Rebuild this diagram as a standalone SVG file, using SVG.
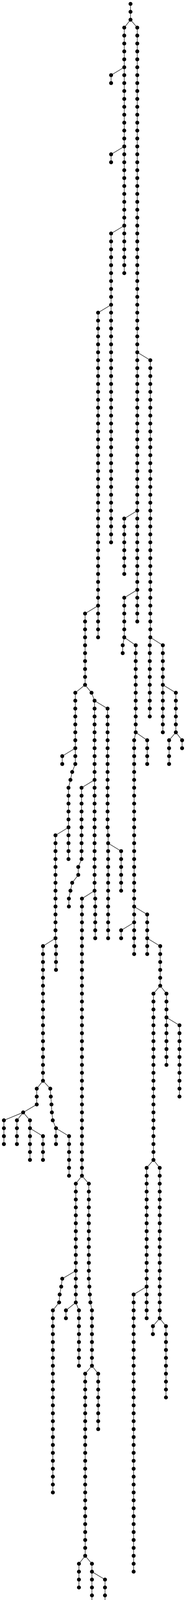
<svg xmlns="http://www.w3.org/2000/svg" width="476" height="4763" viewBox="0 0 476 4763">
<style>
.e path{fill:none;stroke:#333;stroke-width:1.5}
.n circle{r:5px;fill:#000}
</style>
<rect width="476" height="4763" fill="#fff"/>
<g id="connectors" class="e">
<path d="M334 10V50.5"/>
<path d="M334 50.5L318 70.8V699.2"/>
<path d="M334 50.5L351.3 70.8V1591.1"/>
<path d="M318 172.2L284.3 192.4V212.7"/>
<path d="M318 374.9L284.3 395.1V415.4"/>
<path d="M318 577.6L284.3 597.8V1388.4"/>
<path d="M284.3 780.3L251 800.5V1631.6"/>
<path d="M351.3 901.9L384.7 922.2V1631.6"/>
<path d="M351.3 1307.3L318 1327.6V1469.4"/>
<path d="M351.3 1510L318 1530.3V1631.6"/>
<path d="M251 1550.5L217.7 1570.8V1753.2"/>
<path d="M217.7 1753.2L192.7 1773.5V1955.9L184.7 1976.2L180.3 1996.5L175.3 2016.7V2199.2"/>
<path d="M192.7 1915.4L159.3 1935.7V1955.9"/>
<path d="M175.3 2118.1L142 2138.4V2401.9"/>
<path d="M217.7 1753.2L234.3 1773.5L242 1793.8V2280.2"/>
<path d="M242 1793.8L275.3 1814V2118.1L276.7 2138.4V2401.9"/>
<path d="M276.7 2158.6L310 2178.9V2280.2"/>
<path d="M242 1996.5L208.7 2016.7V2199.2L200.3 2219.4V2239.7L184.7 2260L180.3 2280.2L176.3 2300.5V2320.8"/>
<path d="M242 2280.2L209.7 2300.5V3010"/>
<path d="M242 2280.2L243.7 2300.5V2401.9"/>
<path d="M318 1631.6L314 1651.9V1672.1"/>
<path d="M318 1631.6L347.3 1651.9V1874.8"/>
<path d="M347.3 1874.8L343.3 1895.1V2442.4"/>
<path d="M347.3 1874.8L376.7 1895.1V1955.9"/>
<path d="M343.3 2320.8L376.7 2341.1V2442.4"/>
<path d="M376.7 2401.9L410 2422.1V2523.5"/>
<path d="M410 2523.5L392.7 2543.8V2969.4"/>
<path d="M410 2523.5L426 2543.8V2726.2"/>
<path d="M392.7 2969.4L375.3 2989.7V3374.8"/>
<path d="M392.7 2969.4L408.7 2989.7V3374.8"/>
<path d="M375.3 3293.7L342 3314V4023.5"/>
<path d="M408.7 3374.8L391.3 3395.1V3415.4"/>
<path d="M408.7 3374.8L424.7 3395.1V3577.5"/>
<path d="M426 2604.6L459.3 2624.8V2807.3"/>
<path d="M343.3 2361.3L310 2381.6V2401.9"/>
<path d="M384.7 1631.6L383.3 1651.9V1834.3"/>
<path d="M384.7 1631.6L416.7 1651.9V1874.8"/>
<path d="M416.7 1753.2L450 1773.5V1874.8"/>
<path d="M450 1874.8L432.7 1895.1V1955.9"/>
<path d="M450 1874.8L466 1895.1V1915.4"/>
<path d="M209.7 3010L194 3030.2V3334.3"/>
<path d="M209.7 3010L227.3 3030.2V3273.5L228.7 3293.7L230 3314L231.3 3334.3L235.3 3354.6V3496.4"/>
<path d="M194 3253.2L159.3 3273.5L156.7 3293.7L152.7 3314L151.3 3334.3L135.3 3354.6V3820.8"/>
<path d="M194 3334.3L168.7 3354.6V3374.8"/>
<path d="M194 3334.3L202 3354.6V3496.4"/>
<path d="M235.3 3496.4L218 3516.7V3982.9"/>
<path d="M235.3 3496.4L251.3 3516.7V3658.6"/>
<path d="M218 3982.9L202 4003.2V4064"/>
<path d="M218 3982.9L235.3 4003.2V4509.9"/>
<path d="M235.3 4023.5L268.7 4043.7V4469.4"/>
<path d="M235.3 4185.6L202 4205.9V4266.7"/>
<path d="M235.3 4509.9L219.3 4530.2V4591"/>
<path d="M235.3 4509.9L252.7 4530.2V4591"/>
<path d="M252.7 4591L235.3 4611.3V4631.6"/>
<path d="M252.7 4591L268.7 4611.3V4753.2"/>
<path d="M142 2401.9L110 2422.1V2766.7"/>
<path d="M142 2401.9L143.3 2422.1V2482.9"/>
<path d="M110 2766.7L94 2787V2827.5L59.3 2847.8"/>
<path d="M110 2766.7L128.7 2787L130 2807.3L131.7 2827.5L132.7 2847.8L135 2868.1L143.3 2888.3"/>
<path d="M59.3 2847.8L10 2868.1V2928.9"/>
<path d="M59.3 2847.8L43.3 2868.1V2928.9"/>
<path d="M59.3 2847.8L76.7 2868.1V2969.4"/>
<path d="M76.7 2888.3L110 2908.6V2969.4"/>
<path d="M143.3 2888.3V2928.9"/>
<path d="M143.3 2888.3L176.7 2908.6V3010"/>
</g>
<g id="nodes" class="n">
<g id="n0-0"><circle cx="334" cy="10"/></g>
<g id="n0-1"><circle cx="334" cy="30.3"/></g>
<g id="n0-2"><circle cx="334" cy="50.5"/></g>
<g id="n1-3"><circle cx="318" cy="70.8"/></g>
<g id="n1-4"><circle cx="318" cy="91.1"/></g>
<g id="n1-5"><circle cx="318" cy="111.4"/></g>
<g id="n1-6"><circle cx="318" cy="131.6"/></g>
<g id="n1-7"><circle cx="318" cy="151.9"/></g>
<g id="n1-8"><circle cx="318" cy="172.2"/></g>
<g id="n1-9"><circle cx="318" cy="192.4"/></g>
<g id="n1-10"><circle cx="318" cy="212.7"/></g>
<g id="n1-11"><circle cx="318" cy="233"/></g>
<g id="n1-12"><circle cx="318" cy="253.2"/></g>
<g id="n1-13"><circle cx="318" cy="273.5"/></g>
<g id="n1-14"><circle cx="318" cy="293.8"/></g>
<g id="n1-15"><circle cx="318" cy="314.1"/></g>
<g id="n1-16"><circle cx="318" cy="334.3"/></g>
<g id="n1-17"><circle cx="318" cy="354.6"/></g>
<g id="n1-18"><circle cx="318" cy="374.9"/></g>
<g id="n1-19"><circle cx="318" cy="395.1"/></g>
<g id="n1-20"><circle cx="318" cy="415.4"/></g>
<g id="n1-21"><circle cx="318" cy="435.7"/></g>
<g id="n1-22"><circle cx="318" cy="455.9"/></g>
<g id="n1-23"><circle cx="318" cy="476.2"/></g>
<g id="n1-24"><circle cx="318" cy="496.5"/></g>
<g id="n1-25"><circle cx="318" cy="516.8"/></g>
<g id="n1-26"><circle cx="318" cy="537"/></g>
<g id="n1-27"><circle cx="318" cy="557.3"/></g>
<g id="n1-28"><circle cx="318" cy="577.6"/></g>
<g id="n1-29"><circle cx="318" cy="597.8"/></g>
<g id="n1-30"><circle cx="318" cy="618.1"/></g>
<g id="n1-31"><circle cx="318" cy="638.4"/></g>
<g id="n1-32"><circle cx="318" cy="658.6"/></g>
<g id="n1-33"><circle cx="318" cy="678.9"/></g>
<g id="n1-34"><circle cx="318" cy="699.2"/></g>
<g id="n2-3"><circle cx="351.3" cy="70.8"/></g>
<g id="n2-4"><circle cx="351.3" cy="91.1"/></g>
<g id="n2-5"><circle cx="351.3" cy="111.4"/></g>
<g id="n2-6"><circle cx="351.3" cy="131.6"/></g>
<g id="n2-7"><circle cx="351.3" cy="151.9"/></g>
<g id="n2-8"><circle cx="351.3" cy="172.2"/></g>
<g id="n2-9"><circle cx="351.3" cy="192.4"/></g>
<g id="n2-10"><circle cx="351.3" cy="212.7"/></g>
<g id="n2-11"><circle cx="351.3" cy="233"/></g>
<g id="n2-12"><circle cx="351.3" cy="253.2"/></g>
<g id="n2-13"><circle cx="351.3" cy="273.5"/></g>
<g id="n2-14"><circle cx="351.3" cy="293.8"/></g>
<g id="n2-15"><circle cx="351.3" cy="314.1"/></g>
<g id="n2-16"><circle cx="351.3" cy="334.3"/></g>
<g id="n2-17"><circle cx="351.3" cy="354.6"/></g>
<g id="n2-18"><circle cx="351.3" cy="374.9"/></g>
<g id="n2-19"><circle cx="351.3" cy="395.1"/></g>
<g id="n2-20"><circle cx="351.3" cy="415.4"/></g>
<g id="n2-21"><circle cx="351.3" cy="435.7"/></g>
<g id="n2-22"><circle cx="351.3" cy="455.9"/></g>
<g id="n2-23"><circle cx="351.3" cy="476.2"/></g>
<g id="n2-24"><circle cx="351.3" cy="496.5"/></g>
<g id="n2-25"><circle cx="351.3" cy="516.8"/></g>
<g id="n2-26"><circle cx="351.3" cy="537"/></g>
<g id="n2-27"><circle cx="351.3" cy="557.3"/></g>
<g id="n2-28"><circle cx="351.3" cy="577.6"/></g>
<g id="n2-29"><circle cx="351.3" cy="597.8"/></g>
<g id="n2-30"><circle cx="351.3" cy="618.1"/></g>
<g id="n2-31"><circle cx="351.3" cy="638.4"/></g>
<g id="n2-32"><circle cx="351.3" cy="658.6"/></g>
<g id="n2-33"><circle cx="351.3" cy="678.9"/></g>
<g id="n2-34"><circle cx="351.3" cy="699.2"/></g>
<g id="n2-35"><circle cx="351.3" cy="719.5"/></g>
<g id="n2-36"><circle cx="351.3" cy="739.7"/></g>
<g id="n2-37"><circle cx="351.3" cy="760"/></g>
<g id="n2-38"><circle cx="351.3" cy="780.3"/></g>
<g id="n2-39"><circle cx="351.3" cy="800.5"/></g>
<g id="n2-40"><circle cx="351.3" cy="820.8"/></g>
<g id="n2-41"><circle cx="351.3" cy="841.1"/></g>
<g id="n2-42"><circle cx="351.3" cy="861.3"/></g>
<g id="n2-43"><circle cx="351.3" cy="881.6"/></g>
<g id="n2-44"><circle cx="351.3" cy="901.9"/></g>
<g id="n2-45"><circle cx="351.3" cy="922.2"/></g>
<g id="n2-46"><circle cx="351.3" cy="942.4"/></g>
<g id="n2-47"><circle cx="351.3" cy="962.7"/></g>
<g id="n2-48"><circle cx="351.3" cy="983"/></g>
<g id="n2-49"><circle cx="351.3" cy="1003.2"/></g>
<g id="n2-50"><circle cx="351.3" cy="1023.5"/></g>
<g id="n2-51"><circle cx="351.3" cy="1043.8"/></g>
<g id="n2-52"><circle cx="351.3" cy="1064"/></g>
<g id="n2-53"><circle cx="351.3" cy="1084.3"/></g>
<g id="n2-54"><circle cx="351.3" cy="1104.6"/></g>
<g id="n2-55"><circle cx="351.3" cy="1124.9"/></g>
<g id="n2-56"><circle cx="351.3" cy="1145.1"/></g>
<g id="n2-57"><circle cx="351.3" cy="1165.4"/></g>
<g id="n2-58"><circle cx="351.3" cy="1185.7"/></g>
<g id="n2-59"><circle cx="351.3" cy="1205.9"/></g>
<g id="n2-60"><circle cx="351.3" cy="1226.2"/></g>
<g id="n2-61"><circle cx="351.3" cy="1246.5"/></g>
<g id="n2-62"><circle cx="351.3" cy="1266.7"/></g>
<g id="n2-63"><circle cx="351.3" cy="1287"/></g>
<g id="n2-64"><circle cx="351.3" cy="1307.3"/></g>
<g id="n2-65"><circle cx="351.3" cy="1327.6"/></g>
<g id="n2-66"><circle cx="351.3" cy="1347.8"/></g>
<g id="n2-67"><circle cx="351.3" cy="1368.1"/></g>
<g id="n2-68"><circle cx="351.3" cy="1388.4"/></g>
<g id="n2-69"><circle cx="351.3" cy="1408.6"/></g>
<g id="n2-70"><circle cx="351.3" cy="1428.9"/></g>
<g id="n2-71"><circle cx="351.3" cy="1449.2"/></g>
<g id="n2-72"><circle cx="351.3" cy="1469.4"/></g>
<g id="n2-73"><circle cx="351.3" cy="1489.7"/></g>
<g id="n2-74"><circle cx="351.3" cy="1510"/></g>
<g id="n2-75"><circle cx="351.3" cy="1530.3"/></g>
<g id="n2-76"><circle cx="351.3" cy="1550.5"/></g>
<g id="n2-77"><circle cx="351.3" cy="1570.8"/></g>
<g id="n2-78"><circle cx="351.3" cy="1591.1"/></g>
<g id="n3-9"><circle cx="284.3" cy="192.4"/></g>
<g id="n3-10"><circle cx="284.3" cy="212.7"/></g>
<g id="n4-19"><circle cx="284.3" cy="395.1"/></g>
<g id="n4-20"><circle cx="284.3" cy="415.4"/></g>
<g id="n5-29"><circle cx="284.3" cy="597.8"/></g>
<g id="n5-30"><circle cx="284.3" cy="618.1"/></g>
<g id="n5-31"><circle cx="284.3" cy="638.4"/></g>
<g id="n5-32"><circle cx="284.3" cy="658.6"/></g>
<g id="n5-33"><circle cx="284.3" cy="678.9"/></g>
<g id="n5-34"><circle cx="284.3" cy="699.2"/></g>
<g id="n5-35"><circle cx="284.3" cy="719.5"/></g>
<g id="n5-36"><circle cx="284.3" cy="739.7"/></g>
<g id="n5-37"><circle cx="284.3" cy="760"/></g>
<g id="n5-38"><circle cx="284.3" cy="780.3"/></g>
<g id="n5-39"><circle cx="284.3" cy="800.5"/></g>
<g id="n5-40"><circle cx="284.3" cy="820.8"/></g>
<g id="n5-41"><circle cx="284.3" cy="841.1"/></g>
<g id="n5-42"><circle cx="284.3" cy="861.3"/></g>
<g id="n5-43"><circle cx="284.3" cy="881.6"/></g>
<g id="n5-44"><circle cx="284.3" cy="901.9"/></g>
<g id="n5-45"><circle cx="284.3" cy="922.2"/></g>
<g id="n5-46"><circle cx="284.3" cy="942.4"/></g>
<g id="n5-47"><circle cx="284.3" cy="962.7"/></g>
<g id="n5-48"><circle cx="284.3" cy="983"/></g>
<g id="n5-49"><circle cx="284.3" cy="1003.2"/></g>
<g id="n5-50"><circle cx="284.3" cy="1023.5"/></g>
<g id="n5-51"><circle cx="284.3" cy="1043.8"/></g>
<g id="n5-52"><circle cx="284.3" cy="1064"/></g>
<g id="n5-53"><circle cx="284.3" cy="1084.3"/></g>
<g id="n5-54"><circle cx="284.3" cy="1104.6"/></g>
<g id="n5-55"><circle cx="284.3" cy="1124.9"/></g>
<g id="n5-56"><circle cx="284.3" cy="1145.1"/></g>
<g id="n5-57"><circle cx="284.3" cy="1165.4"/></g>
<g id="n5-58"><circle cx="284.3" cy="1185.7"/></g>
<g id="n5-59"><circle cx="284.3" cy="1205.9"/></g>
<g id="n5-60"><circle cx="284.3" cy="1226.2"/></g>
<g id="n5-61"><circle cx="284.3" cy="1246.5"/></g>
<g id="n5-62"><circle cx="284.3" cy="1266.7"/></g>
<g id="n5-63"><circle cx="284.3" cy="1287"/></g>
<g id="n5-64"><circle cx="284.3" cy="1307.3"/></g>
<g id="n5-65"><circle cx="284.3" cy="1327.6"/></g>
<g id="n5-66"><circle cx="284.3" cy="1347.8"/></g>
<g id="n5-67"><circle cx="284.3" cy="1368.1"/></g>
<g id="n5-68"><circle cx="284.3" cy="1388.4"/></g>
<g id="n6-39"><circle cx="251" cy="800.5"/></g>
<g id="n6-40"><circle cx="251" cy="820.8"/></g>
<g id="n6-41"><circle cx="251" cy="841.1"/></g>
<g id="n6-42"><circle cx="251" cy="861.3"/></g>
<g id="n6-43"><circle cx="251" cy="881.6"/></g>
<g id="n6-44"><circle cx="251" cy="901.9"/></g>
<g id="n6-45"><circle cx="251" cy="922.2"/></g>
<g id="n6-46"><circle cx="251" cy="942.4"/></g>
<g id="n6-47"><circle cx="251" cy="962.7"/></g>
<g id="n6-48"><circle cx="251" cy="983"/></g>
<g id="n6-49"><circle cx="251" cy="1003.2"/></g>
<g id="n6-50"><circle cx="251" cy="1023.5"/></g>
<g id="n6-51"><circle cx="251" cy="1043.8"/></g>
<g id="n6-52"><circle cx="251" cy="1064"/></g>
<g id="n6-53"><circle cx="251" cy="1084.3"/></g>
<g id="n6-54"><circle cx="251" cy="1104.6"/></g>
<g id="n6-55"><circle cx="251" cy="1124.9"/></g>
<g id="n6-56"><circle cx="251" cy="1145.1"/></g>
<g id="n6-57"><circle cx="251" cy="1165.4"/></g>
<g id="n6-58"><circle cx="251" cy="1185.7"/></g>
<g id="n6-59"><circle cx="251" cy="1205.9"/></g>
<g id="n6-60"><circle cx="251" cy="1226.2"/></g>
<g id="n6-61"><circle cx="251" cy="1246.5"/></g>
<g id="n6-62"><circle cx="251" cy="1266.7"/></g>
<g id="n6-63"><circle cx="251" cy="1287"/></g>
<g id="n6-64"><circle cx="251" cy="1307.3"/></g>
<g id="n6-65"><circle cx="251" cy="1327.6"/></g>
<g id="n6-66"><circle cx="251" cy="1347.8"/></g>
<g id="n6-67"><circle cx="251" cy="1368.1"/></g>
<g id="n6-68"><circle cx="251" cy="1388.4"/></g>
<g id="n6-69"><circle cx="251" cy="1408.6"/></g>
<g id="n6-70"><circle cx="251" cy="1428.9"/></g>
<g id="n6-71"><circle cx="251" cy="1449.2"/></g>
<g id="n6-72"><circle cx="251" cy="1469.4"/></g>
<g id="n6-73"><circle cx="251" cy="1489.7"/></g>
<g id="n6-74"><circle cx="251" cy="1510"/></g>
<g id="n6-75"><circle cx="251" cy="1530.3"/></g>
<g id="n6-76"><circle cx="251" cy="1550.5"/></g>
<g id="n6-77"><circle cx="251" cy="1570.8"/></g>
<g id="n6-78"><circle cx="251" cy="1591.1"/></g>
<g id="n6-79"><circle cx="251" cy="1611.3"/></g>
<g id="n6-80"><circle cx="251" cy="1631.6"/></g>
<g id="n7-45"><circle cx="384.7" cy="922.2"/></g>
<g id="n7-46"><circle cx="384.7" cy="942.4"/></g>
<g id="n7-47"><circle cx="384.7" cy="962.7"/></g>
<g id="n7-48"><circle cx="384.7" cy="983"/></g>
<g id="n7-49"><circle cx="384.7" cy="1003.2"/></g>
<g id="n7-50"><circle cx="384.7" cy="1023.5"/></g>
<g id="n7-51"><circle cx="384.7" cy="1043.8"/></g>
<g id="n7-52"><circle cx="384.7" cy="1064"/></g>
<g id="n7-53"><circle cx="384.7" cy="1084.3"/></g>
<g id="n7-54"><circle cx="384.7" cy="1104.6"/></g>
<g id="n7-55"><circle cx="384.7" cy="1124.9"/></g>
<g id="n7-56"><circle cx="384.7" cy="1145.1"/></g>
<g id="n7-57"><circle cx="384.7" cy="1165.4"/></g>
<g id="n7-58"><circle cx="384.7" cy="1185.7"/></g>
<g id="n7-59"><circle cx="384.7" cy="1205.9"/></g>
<g id="n7-60"><circle cx="384.7" cy="1226.2"/></g>
<g id="n7-61"><circle cx="384.7" cy="1246.5"/></g>
<g id="n7-62"><circle cx="384.7" cy="1266.7"/></g>
<g id="n7-63"><circle cx="384.7" cy="1287"/></g>
<g id="n7-64"><circle cx="384.7" cy="1307.3"/></g>
<g id="n7-65"><circle cx="384.7" cy="1327.6"/></g>
<g id="n7-66"><circle cx="384.7" cy="1347.8"/></g>
<g id="n7-67"><circle cx="384.7" cy="1368.1"/></g>
<g id="n7-68"><circle cx="384.7" cy="1388.4"/></g>
<g id="n7-69"><circle cx="384.7" cy="1408.6"/></g>
<g id="n7-70"><circle cx="384.7" cy="1428.9"/></g>
<g id="n7-71"><circle cx="384.7" cy="1449.2"/></g>
<g id="n7-72"><circle cx="384.7" cy="1469.4"/></g>
<g id="n7-73"><circle cx="384.7" cy="1489.7"/></g>
<g id="n7-74"><circle cx="384.7" cy="1510"/></g>
<g id="n7-75"><circle cx="384.7" cy="1530.3"/></g>
<g id="n7-76"><circle cx="384.7" cy="1550.5"/></g>
<g id="n7-77"><circle cx="384.7" cy="1570.8"/></g>
<g id="n7-78"><circle cx="384.7" cy="1591.1"/></g>
<g id="n7-79"><circle cx="384.7" cy="1611.3"/></g>
<g id="n7-80"><circle cx="384.7" cy="1631.6"/></g>
<g id="n8-65"><circle cx="318" cy="1327.6"/></g>
<g id="n8-66"><circle cx="318" cy="1347.8"/></g>
<g id="n8-67"><circle cx="318" cy="1368.1"/></g>
<g id="n8-68"><circle cx="318" cy="1388.4"/></g>
<g id="n8-69"><circle cx="318" cy="1408.6"/></g>
<g id="n8-70"><circle cx="318" cy="1428.9"/></g>
<g id="n8-71"><circle cx="318" cy="1449.2"/></g>
<g id="n8-72"><circle cx="318" cy="1469.4"/></g>
<g id="n9-75"><circle cx="318" cy="1530.3"/></g>
<g id="n9-76"><circle cx="318" cy="1550.5"/></g>
<g id="n9-77"><circle cx="318" cy="1570.8"/></g>
<g id="n9-78"><circle cx="318" cy="1591.1"/></g>
<g id="n9-79"><circle cx="318" cy="1611.3"/></g>
<g id="n9-80"><circle cx="318" cy="1631.6"/></g>
<g id="n10-77"><circle cx="217.7" cy="1570.8"/></g>
<g id="n10-78"><circle cx="217.7" cy="1591.1"/></g>
<g id="n10-79"><circle cx="217.7" cy="1611.3"/></g>
<g id="n10-80"><circle cx="217.7" cy="1631.6"/></g>
<g id="n10-81"><circle cx="217.7" cy="1651.9"/></g>
<g id="n10-82"><circle cx="217.7" cy="1672.1"/></g>
<g id="n10-83"><circle cx="217.7" cy="1692.4"/></g>
<g id="n10-84"><circle cx="217.7" cy="1712.7"/></g>
<g id="n10-85"><circle cx="217.7" cy="1733"/></g>
<g id="n10-86"><circle cx="217.7" cy="1753.2"/></g>
<g id="n11-87"><circle cx="192.7" cy="1773.5"/></g>
<g id="n11-88"><circle cx="192.7" cy="1793.8"/></g>
<g id="n11-89"><circle cx="192.7" cy="1814"/></g>
<g id="n11-90"><circle cx="192.7" cy="1834.3"/></g>
<g id="n11-91"><circle cx="192.7" cy="1854.6"/></g>
<g id="n11-92"><circle cx="192.7" cy="1874.8"/></g>
<g id="n11-93"><circle cx="192.7" cy="1895.1"/></g>
<g id="n11-94"><circle cx="192.7" cy="1915.4"/></g>
<g id="n11-95"><circle cx="192.7" cy="1935.7"/></g>
<g id="n11-96"><circle cx="192.7" cy="1955.9"/></g>
<g id="n11-97"><circle cx="184.7" cy="1976.2"/></g>
<g id="n11-98"><circle cx="180.3" cy="1996.5"/></g>
<g id="n11-99"><circle cx="175.3" cy="2016.7"/></g>
<g id="n11-100"><circle cx="175.3" cy="2037"/></g>
<g id="n11-101"><circle cx="175.3" cy="2057.3"/></g>
<g id="n11-102"><circle cx="175.3" cy="2077.5"/></g>
<g id="n11-103"><circle cx="175.3" cy="2097.8"/></g>
<g id="n11-104"><circle cx="175.3" cy="2118.1"/></g>
<g id="n11-105"><circle cx="175.3" cy="2138.4"/></g>
<g id="n11-106"><circle cx="175.3" cy="2158.6"/></g>
<g id="n11-107"><circle cx="175.3" cy="2178.9"/></g>
<g id="n11-108"><circle cx="175.3" cy="2199.2"/></g>
<g id="n12-95"><circle cx="159.3" cy="1935.7"/></g>
<g id="n12-96"><circle cx="159.3" cy="1955.9"/></g>
<g id="n13-105"><circle cx="142" cy="2138.4"/></g>
<g id="n13-106"><circle cx="142" cy="2158.6"/></g>
<g id="n13-107"><circle cx="142" cy="2178.9"/></g>
<g id="n13-108"><circle cx="142" cy="2199.2"/></g>
<g id="n13-109"><circle cx="142" cy="2219.4"/></g>
<g id="n13-110"><circle cx="142" cy="2239.7"/></g>
<g id="n13-111"><circle cx="142" cy="2260"/></g>
<g id="n13-112"><circle cx="142" cy="2280.2"/></g>
<g id="n13-113"><circle cx="142" cy="2300.5"/></g>
<g id="n13-114"><circle cx="142" cy="2320.8"/></g>
<g id="n13-115"><circle cx="142" cy="2341.1"/></g>
<g id="n13-116"><circle cx="142" cy="2361.3"/></g>
<g id="n13-117"><circle cx="142" cy="2381.6"/></g>
<g id="n13-118"><circle cx="142" cy="2401.9"/></g>
<g id="n14-87"><circle cx="234.3" cy="1773.5"/></g>
<g id="n14-88"><circle cx="242" cy="1793.8"/></g>
<g id="n14-89"><circle cx="242" cy="1814"/></g>
<g id="n14-90"><circle cx="242" cy="1834.3"/></g>
<g id="n14-91"><circle cx="242" cy="1854.6"/></g>
<g id="n14-92"><circle cx="242" cy="1874.8"/></g>
<g id="n14-93"><circle cx="242" cy="1895.1"/></g>
<g id="n14-94"><circle cx="242" cy="1915.4"/></g>
<g id="n14-95"><circle cx="242" cy="1935.7"/></g>
<g id="n14-96"><circle cx="242" cy="1955.9"/></g>
<g id="n14-97"><circle cx="242" cy="1976.2"/></g>
<g id="n14-98"><circle cx="242" cy="1996.5"/></g>
<g id="n14-99"><circle cx="242" cy="2016.7"/></g>
<g id="n14-100"><circle cx="242" cy="2037"/></g>
<g id="n14-101"><circle cx="242" cy="2057.3"/></g>
<g id="n14-102"><circle cx="242" cy="2077.5"/></g>
<g id="n14-103"><circle cx="242" cy="2097.8"/></g>
<g id="n14-104"><circle cx="242" cy="2118.1"/></g>
<g id="n14-105"><circle cx="242" cy="2138.4"/></g>
<g id="n14-106"><circle cx="242" cy="2158.6"/></g>
<g id="n14-107"><circle cx="242" cy="2178.9"/></g>
<g id="n14-108"><circle cx="242" cy="2199.2"/></g>
<g id="n14-109"><circle cx="242" cy="2219.4"/></g>
<g id="n14-110"><circle cx="242" cy="2239.7"/></g>
<g id="n14-111"><circle cx="242" cy="2260"/></g>
<g id="n14-112"><circle cx="242" cy="2280.2"/></g>
<g id="n15-89"><circle cx="275.3" cy="1814"/></g>
<g id="n15-90"><circle cx="275.3" cy="1834.3"/></g>
<g id="n15-91"><circle cx="275.3" cy="1854.6"/></g>
<g id="n15-92"><circle cx="275.3" cy="1874.8"/></g>
<g id="n15-93"><circle cx="275.3" cy="1895.1"/></g>
<g id="n15-94"><circle cx="275.3" cy="1915.4"/></g>
<g id="n15-95"><circle cx="275.3" cy="1935.7"/></g>
<g id="n15-96"><circle cx="275.3" cy="1955.9"/></g>
<g id="n15-97"><circle cx="275.3" cy="1976.2"/></g>
<g id="n15-98"><circle cx="275.3" cy="1996.5"/></g>
<g id="n15-99"><circle cx="275.3" cy="2016.7"/></g>
<g id="n15-100"><circle cx="275.3" cy="2037"/></g>
<g id="n15-101"><circle cx="275.3" cy="2057.3"/></g>
<g id="n15-102"><circle cx="275.3" cy="2077.5"/></g>
<g id="n15-103"><circle cx="275.3" cy="2097.8"/></g>
<g id="n15-104"><circle cx="275.3" cy="2118.1"/></g>
<g id="n15-105"><circle cx="276.7" cy="2138.4"/></g>
<g id="n15-106"><circle cx="276.7" cy="2158.6"/></g>
<g id="n15-107"><circle cx="276.7" cy="2178.9"/></g>
<g id="n15-108"><circle cx="276.7" cy="2199.2"/></g>
<g id="n15-109"><circle cx="276.7" cy="2219.4"/></g>
<g id="n15-110"><circle cx="276.7" cy="2239.7"/></g>
<g id="n15-111"><circle cx="276.7" cy="2260"/></g>
<g id="n15-112"><circle cx="276.7" cy="2280.2"/></g>
<g id="n15-113"><circle cx="276.7" cy="2300.5"/></g>
<g id="n15-114"><circle cx="276.7" cy="2320.8"/></g>
<g id="n15-115"><circle cx="276.7" cy="2341.1"/></g>
<g id="n15-116"><circle cx="276.7" cy="2361.3"/></g>
<g id="n15-117"><circle cx="276.7" cy="2381.6"/></g>
<g id="n15-118"><circle cx="276.7" cy="2401.9"/></g>
<g id="n16-107"><circle cx="310" cy="2178.9"/></g>
<g id="n16-108"><circle cx="310" cy="2199.2"/></g>
<g id="n16-109"><circle cx="310" cy="2219.4"/></g>
<g id="n16-110"><circle cx="310" cy="2239.7"/></g>
<g id="n16-111"><circle cx="310" cy="2260"/></g>
<g id="n16-112"><circle cx="310" cy="2280.2"/></g>
<g id="n17-99"><circle cx="208.7" cy="2016.7"/></g>
<g id="n17-100"><circle cx="208.7" cy="2037"/></g>
<g id="n17-101"><circle cx="208.7" cy="2057.3"/></g>
<g id="n17-102"><circle cx="208.7" cy="2077.5"/></g>
<g id="n17-103"><circle cx="208.7" cy="2097.8"/></g>
<g id="n17-104"><circle cx="208.7" cy="2118.1"/></g>
<g id="n17-105"><circle cx="208.7" cy="2138.4"/></g>
<g id="n17-106"><circle cx="208.7" cy="2158.6"/></g>
<g id="n17-107"><circle cx="208.7" cy="2178.9"/></g>
<g id="n17-108"><circle cx="208.7" cy="2199.2"/></g>
<g id="n17-109"><circle cx="200.3" cy="2219.4"/></g>
<g id="n17-110"><circle cx="200.3" cy="2239.7"/></g>
<g id="n17-111"><circle cx="184.7" cy="2260"/></g>
<g id="n17-112"><circle cx="180.3" cy="2280.2"/></g>
<g id="n17-113"><circle cx="176.3" cy="2300.5"/></g>
<g id="n17-114"><circle cx="176.3" cy="2320.8"/></g>
<g id="n18-113"><circle cx="209.7" cy="2300.5"/></g>
<g id="n18-114"><circle cx="209.7" cy="2320.8"/></g>
<g id="n18-115"><circle cx="209.7" cy="2341.1"/></g>
<g id="n18-116"><circle cx="209.7" cy="2361.3"/></g>
<g id="n18-117"><circle cx="209.7" cy="2381.6"/></g>
<g id="n18-118"><circle cx="209.7" cy="2401.9"/></g>
<g id="n18-119"><circle cx="209.7" cy="2422.1"/></g>
<g id="n18-120"><circle cx="209.7" cy="2442.4"/></g>
<g id="n18-121"><circle cx="209.7" cy="2462.7"/></g>
<g id="n18-122"><circle cx="209.7" cy="2482.9"/></g>
<g id="n18-123"><circle cx="209.7" cy="2503.2"/></g>
<g id="n18-124"><circle cx="209.7" cy="2523.5"/></g>
<g id="n18-125"><circle cx="209.7" cy="2543.8"/></g>
<g id="n18-126"><circle cx="209.7" cy="2564"/></g>
<g id="n18-127"><circle cx="209.7" cy="2584.3"/></g>
<g id="n18-128"><circle cx="209.7" cy="2604.6"/></g>
<g id="n18-129"><circle cx="209.7" cy="2624.8"/></g>
<g id="n18-130"><circle cx="209.7" cy="2645.1"/></g>
<g id="n18-131"><circle cx="209.7" cy="2665.4"/></g>
<g id="n18-132"><circle cx="209.7" cy="2685.6"/></g>
<g id="n18-133"><circle cx="209.7" cy="2705.9"/></g>
<g id="n18-134"><circle cx="209.7" cy="2726.2"/></g>
<g id="n18-135"><circle cx="209.7" cy="2746.5"/></g>
<g id="n18-136"><circle cx="209.7" cy="2766.7"/></g>
<g id="n18-137"><circle cx="209.7" cy="2787"/></g>
<g id="n18-138"><circle cx="209.7" cy="2807.3"/></g>
<g id="n18-139"><circle cx="209.7" cy="2827.5"/></g>
<g id="n18-140"><circle cx="209.7" cy="2847.8"/></g>
<g id="n18-141"><circle cx="209.7" cy="2868.1"/></g>
<g id="n18-142"><circle cx="209.7" cy="2888.3"/></g>
<g id="n18-143"><circle cx="209.7" cy="2908.6"/></g>
<g id="n18-144"><circle cx="209.7" cy="2928.9"/></g>
<g id="n18-145"><circle cx="209.7" cy="2949.2"/></g>
<g id="n18-146"><circle cx="209.7" cy="2969.4"/></g>
<g id="n18-147"><circle cx="209.7" cy="2989.7"/></g>
<g id="n18-148"><circle cx="209.7" cy="3010"/></g>
<g id="n19-113"><circle cx="243.7" cy="2300.5"/></g>
<g id="n19-114"><circle cx="243.7" cy="2320.8"/></g>
<g id="n19-115"><circle cx="243.7" cy="2341.1"/></g>
<g id="n19-116"><circle cx="243.7" cy="2361.3"/></g>
<g id="n19-117"><circle cx="243.7" cy="2381.6"/></g>
<g id="n19-118"><circle cx="243.7" cy="2401.9"/></g>
<g id="n20-81"><circle cx="314" cy="1651.9"/></g>
<g id="n20-82"><circle cx="314" cy="1672.1"/></g>
<g id="n21-81"><circle cx="347.3" cy="1651.9"/></g>
<g id="n21-82"><circle cx="347.3" cy="1672.1"/></g>
<g id="n21-83"><circle cx="347.3" cy="1692.4"/></g>
<g id="n21-84"><circle cx="347.3" cy="1712.7"/></g>
<g id="n21-85"><circle cx="347.3" cy="1733"/></g>
<g id="n21-86"><circle cx="347.3" cy="1753.2"/></g>
<g id="n21-87"><circle cx="347.3" cy="1773.5"/></g>
<g id="n21-88"><circle cx="347.3" cy="1793.8"/></g>
<g id="n21-89"><circle cx="347.3" cy="1814"/></g>
<g id="n21-90"><circle cx="347.3" cy="1834.3"/></g>
<g id="n21-91"><circle cx="347.3" cy="1854.6"/></g>
<g id="n21-92"><circle cx="347.3" cy="1874.8"/></g>
<g id="n22-93"><circle cx="343.3" cy="1895.1"/></g>
<g id="n22-94"><circle cx="343.3" cy="1915.4"/></g>
<g id="n22-95"><circle cx="343.3" cy="1935.7"/></g>
<g id="n22-96"><circle cx="343.3" cy="1955.9"/></g>
<g id="n22-97"><circle cx="343.3" cy="1976.2"/></g>
<g id="n22-98"><circle cx="343.3" cy="1996.5"/></g>
<g id="n22-99"><circle cx="343.3" cy="2016.7"/></g>
<g id="n22-100"><circle cx="343.3" cy="2037"/></g>
<g id="n22-101"><circle cx="343.3" cy="2057.3"/></g>
<g id="n22-102"><circle cx="343.3" cy="2077.5"/></g>
<g id="n22-103"><circle cx="343.3" cy="2097.8"/></g>
<g id="n22-104"><circle cx="343.3" cy="2118.1"/></g>
<g id="n22-105"><circle cx="343.3" cy="2138.4"/></g>
<g id="n22-106"><circle cx="343.3" cy="2158.6"/></g>
<g id="n22-107"><circle cx="343.3" cy="2178.9"/></g>
<g id="n22-108"><circle cx="343.3" cy="2199.2"/></g>
<g id="n22-109"><circle cx="343.3" cy="2219.4"/></g>
<g id="n22-110"><circle cx="343.3" cy="2239.7"/></g>
<g id="n22-111"><circle cx="343.3" cy="2260"/></g>
<g id="n22-112"><circle cx="343.3" cy="2280.2"/></g>
<g id="n22-113"><circle cx="343.3" cy="2300.5"/></g>
<g id="n22-114"><circle cx="343.3" cy="2320.8"/></g>
<g id="n22-115"><circle cx="343.3" cy="2341.1"/></g>
<g id="n22-116"><circle cx="343.3" cy="2361.3"/></g>
<g id="n22-117"><circle cx="343.3" cy="2381.6"/></g>
<g id="n22-118"><circle cx="343.3" cy="2401.9"/></g>
<g id="n22-119"><circle cx="343.3" cy="2422.1"/></g>
<g id="n22-120"><circle cx="343.3" cy="2442.4"/></g>
<g id="n23-93"><circle cx="376.7" cy="1895.1"/></g>
<g id="n23-94"><circle cx="376.7" cy="1915.4"/></g>
<g id="n23-95"><circle cx="376.7" cy="1935.7"/></g>
<g id="n23-96"><circle cx="376.7" cy="1955.9"/></g>
<g id="n24-115"><circle cx="376.7" cy="2341.1"/></g>
<g id="n24-116"><circle cx="376.7" cy="2361.3"/></g>
<g id="n24-117"><circle cx="376.7" cy="2381.6"/></g>
<g id="n24-118"><circle cx="376.7" cy="2401.9"/></g>
<g id="n24-119"><circle cx="376.7" cy="2422.1"/></g>
<g id="n24-120"><circle cx="376.7" cy="2442.4"/></g>
<g id="n25-119"><circle cx="410" cy="2422.1"/></g>
<g id="n25-120"><circle cx="410" cy="2442.4"/></g>
<g id="n25-121"><circle cx="410" cy="2462.7"/></g>
<g id="n25-122"><circle cx="410" cy="2482.9"/></g>
<g id="n25-123"><circle cx="410" cy="2503.2"/></g>
<g id="n25-124"><circle cx="410" cy="2523.5"/></g>
<g id="n26-125"><circle cx="392.7" cy="2543.8"/></g>
<g id="n26-126"><circle cx="392.7" cy="2564"/></g>
<g id="n26-127"><circle cx="392.7" cy="2584.3"/></g>
<g id="n26-128"><circle cx="392.7" cy="2604.6"/></g>
<g id="n26-129"><circle cx="392.7" cy="2624.8"/></g>
<g id="n26-130"><circle cx="392.7" cy="2645.1"/></g>
<g id="n26-131"><circle cx="392.7" cy="2665.4"/></g>
<g id="n26-132"><circle cx="392.7" cy="2685.6"/></g>
<g id="n26-133"><circle cx="392.7" cy="2705.9"/></g>
<g id="n26-134"><circle cx="392.7" cy="2726.2"/></g>
<g id="n26-135"><circle cx="392.7" cy="2746.5"/></g>
<g id="n26-136"><circle cx="392.7" cy="2766.7"/></g>
<g id="n26-137"><circle cx="392.7" cy="2787"/></g>
<g id="n26-138"><circle cx="392.7" cy="2807.3"/></g>
<g id="n26-139"><circle cx="392.7" cy="2827.5"/></g>
<g id="n26-140"><circle cx="392.7" cy="2847.8"/></g>
<g id="n26-141"><circle cx="392.7" cy="2868.1"/></g>
<g id="n26-142"><circle cx="392.7" cy="2888.3"/></g>
<g id="n26-143"><circle cx="392.7" cy="2908.6"/></g>
<g id="n26-144"><circle cx="392.7" cy="2928.9"/></g>
<g id="n26-145"><circle cx="392.7" cy="2949.2"/></g>
<g id="n26-146"><circle cx="392.7" cy="2969.4"/></g>
<g id="n27-125"><circle cx="426" cy="2543.8"/></g>
<g id="n27-126"><circle cx="426" cy="2564"/></g>
<g id="n27-127"><circle cx="426" cy="2584.3"/></g>
<g id="n27-128"><circle cx="426" cy="2604.6"/></g>
<g id="n27-129"><circle cx="426" cy="2624.8"/></g>
<g id="n27-130"><circle cx="426" cy="2645.1"/></g>
<g id="n27-131"><circle cx="426" cy="2665.4"/></g>
<g id="n27-132"><circle cx="426" cy="2685.6"/></g>
<g id="n27-133"><circle cx="426" cy="2705.9"/></g>
<g id="n27-134"><circle cx="426" cy="2726.2"/></g>
<g id="n28-147"><circle cx="375.3" cy="2989.7"/></g>
<g id="n28-148"><circle cx="375.3" cy="3010"/></g>
<g id="n28-149"><circle cx="375.3" cy="3030.2"/></g>
<g id="n28-150"><circle cx="375.3" cy="3050.5"/></g>
<g id="n28-151"><circle cx="375.3" cy="3070.8"/></g>
<g id="n28-152"><circle cx="375.3" cy="3091"/></g>
<g id="n28-153"><circle cx="375.3" cy="3111.3"/></g>
<g id="n28-154"><circle cx="375.3" cy="3131.6"/></g>
<g id="n28-155"><circle cx="375.3" cy="3151.9"/></g>
<g id="n28-156"><circle cx="375.3" cy="3172.1"/></g>
<g id="n28-157"><circle cx="375.3" cy="3192.4"/></g>
<g id="n28-158"><circle cx="375.3" cy="3212.7"/></g>
<g id="n28-159"><circle cx="375.3" cy="3232.9"/></g>
<g id="n28-160"><circle cx="375.3" cy="3253.2"/></g>
<g id="n28-161"><circle cx="375.3" cy="3273.5"/></g>
<g id="n28-162"><circle cx="375.3" cy="3293.7"/></g>
<g id="n28-163"><circle cx="375.3" cy="3314"/></g>
<g id="n28-164"><circle cx="375.3" cy="3334.3"/></g>
<g id="n28-165"><circle cx="375.3" cy="3354.6"/></g>
<g id="n28-166"><circle cx="375.3" cy="3374.8"/></g>
<g id="n29-147"><circle cx="408.7" cy="2989.7"/></g>
<g id="n29-148"><circle cx="408.7" cy="3010"/></g>
<g id="n29-149"><circle cx="408.7" cy="3030.2"/></g>
<g id="n29-150"><circle cx="408.7" cy="3050.5"/></g>
<g id="n29-151"><circle cx="408.7" cy="3070.8"/></g>
<g id="n29-152"><circle cx="408.7" cy="3091"/></g>
<g id="n29-153"><circle cx="408.7" cy="3111.3"/></g>
<g id="n29-154"><circle cx="408.7" cy="3131.6"/></g>
<g id="n29-155"><circle cx="408.7" cy="3151.9"/></g>
<g id="n29-156"><circle cx="408.7" cy="3172.1"/></g>
<g id="n29-157"><circle cx="408.7" cy="3192.4"/></g>
<g id="n29-158"><circle cx="408.7" cy="3212.7"/></g>
<g id="n29-159"><circle cx="408.7" cy="3232.9"/></g>
<g id="n29-160"><circle cx="408.7" cy="3253.2"/></g>
<g id="n29-161"><circle cx="408.7" cy="3273.5"/></g>
<g id="n29-162"><circle cx="408.7" cy="3293.7"/></g>
<g id="n29-163"><circle cx="408.7" cy="3314"/></g>
<g id="n29-164"><circle cx="408.7" cy="3334.3"/></g>
<g id="n29-165"><circle cx="408.7" cy="3354.6"/></g>
<g id="n29-166"><circle cx="408.7" cy="3374.8"/></g>
<g id="n30-163"><circle cx="342" cy="3314"/></g>
<g id="n30-164"><circle cx="342" cy="3334.3"/></g>
<g id="n30-165"><circle cx="342" cy="3354.6"/></g>
<g id="n30-166"><circle cx="342" cy="3374.8"/></g>
<g id="n30-167"><circle cx="342" cy="3395.1"/></g>
<g id="n30-168"><circle cx="342" cy="3415.4"/></g>
<g id="n30-169"><circle cx="342" cy="3435.6"/></g>
<g id="n30-170"><circle cx="342" cy="3455.9"/></g>
<g id="n30-171"><circle cx="342" cy="3476.2"/></g>
<g id="n30-172"><circle cx="342" cy="3496.4"/></g>
<g id="n30-173"><circle cx="342" cy="3516.7"/></g>
<g id="n30-174"><circle cx="342" cy="3537"/></g>
<g id="n30-175"><circle cx="342" cy="3557.3"/></g>
<g id="n30-176"><circle cx="342" cy="3577.5"/></g>
<g id="n30-177"><circle cx="342" cy="3597.8"/></g>
<g id="n30-178"><circle cx="342" cy="3618.1"/></g>
<g id="n30-179"><circle cx="342" cy="3638.3"/></g>
<g id="n30-180"><circle cx="342" cy="3658.6"/></g>
<g id="n30-181"><circle cx="342" cy="3678.9"/></g>
<g id="n30-182"><circle cx="342" cy="3699.1"/></g>
<g id="n30-183"><circle cx="342" cy="3719.4"/></g>
<g id="n30-184"><circle cx="342" cy="3739.7"/></g>
<g id="n30-185"><circle cx="342" cy="3760"/></g>
<g id="n30-186"><circle cx="342" cy="3780.2"/></g>
<g id="n30-187"><circle cx="342" cy="3800.5"/></g>
<g id="n30-188"><circle cx="342" cy="3820.8"/></g>
<g id="n30-189"><circle cx="342" cy="3841"/></g>
<g id="n30-190"><circle cx="342" cy="3861.3"/></g>
<g id="n30-191"><circle cx="342" cy="3881.6"/></g>
<g id="n30-192"><circle cx="342" cy="3901.8"/></g>
<g id="n30-193"><circle cx="342" cy="3922.1"/></g>
<g id="n30-194"><circle cx="342" cy="3942.4"/></g>
<g id="n30-195"><circle cx="342" cy="3962.7"/></g>
<g id="n30-196"><circle cx="342" cy="3982.9"/></g>
<g id="n30-197"><circle cx="342" cy="4003.2"/></g>
<g id="n30-198"><circle cx="342" cy="4023.5"/></g>
<g id="n31-167"><circle cx="391.3" cy="3395.1"/></g>
<g id="n31-168"><circle cx="391.3" cy="3415.4"/></g>
<g id="n32-167"><circle cx="424.7" cy="3395.1"/></g>
<g id="n32-168"><circle cx="424.7" cy="3415.4"/></g>
<g id="n32-169"><circle cx="424.7" cy="3435.6"/></g>
<g id="n32-170"><circle cx="424.7" cy="3455.9"/></g>
<g id="n32-171"><circle cx="424.7" cy="3476.2"/></g>
<g id="n32-172"><circle cx="424.7" cy="3496.4"/></g>
<g id="n32-173"><circle cx="424.7" cy="3516.7"/></g>
<g id="n32-174"><circle cx="424.7" cy="3537"/></g>
<g id="n32-175"><circle cx="424.7" cy="3557.3"/></g>
<g id="n32-176"><circle cx="424.7" cy="3577.5"/></g>
<g id="n33-129"><circle cx="459.3" cy="2624.8"/></g>
<g id="n33-130"><circle cx="459.3" cy="2645.1"/></g>
<g id="n33-131"><circle cx="459.3" cy="2665.4"/></g>
<g id="n33-132"><circle cx="459.3" cy="2685.6"/></g>
<g id="n33-133"><circle cx="459.3" cy="2705.9"/></g>
<g id="n33-134"><circle cx="459.3" cy="2726.2"/></g>
<g id="n33-135"><circle cx="459.3" cy="2746.5"/></g>
<g id="n33-136"><circle cx="459.3" cy="2766.7"/></g>
<g id="n33-137"><circle cx="459.3" cy="2787"/></g>
<g id="n33-138"><circle cx="459.3" cy="2807.3"/></g>
<g id="n34-117"><circle cx="310" cy="2381.6"/></g>
<g id="n34-118"><circle cx="310" cy="2401.9"/></g>
<g id="n35-81"><circle cx="383.3" cy="1651.9"/></g>
<g id="n35-82"><circle cx="383.3" cy="1672.1"/></g>
<g id="n35-83"><circle cx="383.3" cy="1692.4"/></g>
<g id="n35-84"><circle cx="383.3" cy="1712.7"/></g>
<g id="n35-85"><circle cx="383.3" cy="1733"/></g>
<g id="n35-86"><circle cx="383.3" cy="1753.2"/></g>
<g id="n35-87"><circle cx="383.3" cy="1773.5"/></g>
<g id="n35-88"><circle cx="383.3" cy="1793.8"/></g>
<g id="n35-89"><circle cx="383.3" cy="1814"/></g>
<g id="n35-90"><circle cx="383.3" cy="1834.3"/></g>
<g id="n36-81"><circle cx="416.7" cy="1651.9"/></g>
<g id="n36-82"><circle cx="416.7" cy="1672.1"/></g>
<g id="n36-83"><circle cx="416.7" cy="1692.4"/></g>
<g id="n36-84"><circle cx="416.7" cy="1712.7"/></g>
<g id="n36-85"><circle cx="416.7" cy="1733"/></g>
<g id="n36-86"><circle cx="416.7" cy="1753.2"/></g>
<g id="n36-87"><circle cx="416.7" cy="1773.5"/></g>
<g id="n36-88"><circle cx="416.7" cy="1793.8"/></g>
<g id="n36-89"><circle cx="416.7" cy="1814"/></g>
<g id="n36-90"><circle cx="416.7" cy="1834.3"/></g>
<g id="n36-91"><circle cx="416.7" cy="1854.6"/></g>
<g id="n36-92"><circle cx="416.7" cy="1874.8"/></g>
<g id="n37-87"><circle cx="450" cy="1773.5"/></g>
<g id="n37-88"><circle cx="450" cy="1793.8"/></g>
<g id="n37-89"><circle cx="450" cy="1814"/></g>
<g id="n37-90"><circle cx="450" cy="1834.3"/></g>
<g id="n37-91"><circle cx="450" cy="1854.6"/></g>
<g id="n37-92"><circle cx="450" cy="1874.8"/></g>
<g id="n38-93"><circle cx="432.7" cy="1895.1"/></g>
<g id="n38-94"><circle cx="432.7" cy="1915.4"/></g>
<g id="n38-95"><circle cx="432.7" cy="1935.7"/></g>
<g id="n38-96"><circle cx="432.7" cy="1955.9"/></g>
<g id="n39-93"><circle cx="466" cy="1895.1"/></g>
<g id="n39-94"><circle cx="466" cy="1915.4"/></g>
<g id="n40-149"><circle cx="194" cy="3030.2"/></g>
<g id="n40-150"><circle cx="194" cy="3050.5"/></g>
<g id="n40-151"><circle cx="194" cy="3070.8"/></g>
<g id="n40-152"><circle cx="194" cy="3091"/></g>
<g id="n40-153"><circle cx="194" cy="3111.3"/></g>
<g id="n40-154"><circle cx="194" cy="3131.6"/></g>
<g id="n40-155"><circle cx="194" cy="3151.9"/></g>
<g id="n40-156"><circle cx="194" cy="3172.1"/></g>
<g id="n40-157"><circle cx="194" cy="3192.4"/></g>
<g id="n40-158"><circle cx="194" cy="3212.7"/></g>
<g id="n40-159"><circle cx="194" cy="3232.9"/></g>
<g id="n40-160"><circle cx="194" cy="3253.2"/></g>
<g id="n40-161"><circle cx="194" cy="3273.5"/></g>
<g id="n40-162"><circle cx="194" cy="3293.7"/></g>
<g id="n40-163"><circle cx="194" cy="3314"/></g>
<g id="n40-164"><circle cx="194" cy="3334.3"/></g>
<g id="n41-149"><circle cx="227.3" cy="3030.2"/></g>
<g id="n41-150"><circle cx="227.3" cy="3050.5"/></g>
<g id="n41-151"><circle cx="227.3" cy="3070.8"/></g>
<g id="n41-152"><circle cx="227.3" cy="3091"/></g>
<g id="n41-153"><circle cx="227.3" cy="3111.3"/></g>
<g id="n41-154"><circle cx="227.3" cy="3131.6"/></g>
<g id="n41-155"><circle cx="227.3" cy="3151.9"/></g>
<g id="n41-156"><circle cx="227.3" cy="3172.1"/></g>
<g id="n41-157"><circle cx="227.3" cy="3192.4"/></g>
<g id="n41-158"><circle cx="227.3" cy="3212.7"/></g>
<g id="n41-159"><circle cx="227.3" cy="3232.9"/></g>
<g id="n41-160"><circle cx="227.3" cy="3253.2"/></g>
<g id="n41-161"><circle cx="227.3" cy="3273.5"/></g>
<g id="n41-162"><circle cx="228.7" cy="3293.7"/></g>
<g id="n41-163"><circle cx="230" cy="3314"/></g>
<g id="n41-164"><circle cx="231.3" cy="3334.3"/></g>
<g id="n41-165"><circle cx="235.3" cy="3354.6"/></g>
<g id="n41-166"><circle cx="235.3" cy="3374.8"/></g>
<g id="n41-167"><circle cx="235.3" cy="3395.1"/></g>
<g id="n41-168"><circle cx="235.3" cy="3415.4"/></g>
<g id="n41-169"><circle cx="235.3" cy="3435.6"/></g>
<g id="n41-170"><circle cx="235.3" cy="3455.9"/></g>
<g id="n41-171"><circle cx="235.3" cy="3476.2"/></g>
<g id="n41-172"><circle cx="235.3" cy="3496.4"/></g>
<g id="n42-161"><circle cx="159.3" cy="3273.5"/></g>
<g id="n42-162"><circle cx="156.7" cy="3293.7"/></g>
<g id="n42-163"><circle cx="152.7" cy="3314"/></g>
<g id="n42-164"><circle cx="151.3" cy="3334.3"/></g>
<g id="n42-165"><circle cx="135.3" cy="3354.6"/></g>
<g id="n42-166"><circle cx="135.3" cy="3374.8"/></g>
<g id="n42-167"><circle cx="135.3" cy="3395.1"/></g>
<g id="n42-168"><circle cx="135.3" cy="3415.4"/></g>
<g id="n42-169"><circle cx="135.3" cy="3435.6"/></g>
<g id="n42-170"><circle cx="135.3" cy="3455.9"/></g>
<g id="n42-171"><circle cx="135.3" cy="3476.2"/></g>
<g id="n42-172"><circle cx="135.3" cy="3496.4"/></g>
<g id="n42-173"><circle cx="135.3" cy="3516.7"/></g>
<g id="n42-174"><circle cx="135.3" cy="3537"/></g>
<g id="n42-175"><circle cx="135.3" cy="3557.3"/></g>
<g id="n42-176"><circle cx="135.3" cy="3577.5"/></g>
<g id="n42-177"><circle cx="135.3" cy="3597.8"/></g>
<g id="n42-178"><circle cx="135.3" cy="3618.1"/></g>
<g id="n42-179"><circle cx="135.3" cy="3638.3"/></g>
<g id="n42-180"><circle cx="135.3" cy="3658.6"/></g>
<g id="n42-181"><circle cx="135.3" cy="3678.9"/></g>
<g id="n42-182"><circle cx="135.3" cy="3699.1"/></g>
<g id="n42-183"><circle cx="135.3" cy="3719.4"/></g>
<g id="n42-184"><circle cx="135.3" cy="3739.7"/></g>
<g id="n42-185"><circle cx="135.3" cy="3760"/></g>
<g id="n42-186"><circle cx="135.3" cy="3780.2"/></g>
<g id="n42-187"><circle cx="135.3" cy="3800.5"/></g>
<g id="n42-188"><circle cx="135.3" cy="3820.8"/></g>
<g id="n43-165"><circle cx="168.7" cy="3354.6"/></g>
<g id="n43-166"><circle cx="168.7" cy="3374.8"/></g>
<g id="n44-165"><circle cx="202" cy="3354.6"/></g>
<g id="n44-166"><circle cx="202" cy="3374.8"/></g>
<g id="n44-167"><circle cx="202" cy="3395.1"/></g>
<g id="n44-168"><circle cx="202" cy="3415.4"/></g>
<g id="n44-169"><circle cx="202" cy="3435.6"/></g>
<g id="n44-170"><circle cx="202" cy="3455.9"/></g>
<g id="n44-171"><circle cx="202" cy="3476.2"/></g>
<g id="n44-172"><circle cx="202" cy="3496.4"/></g>
<g id="n45-173"><circle cx="218" cy="3516.7"/></g>
<g id="n45-174"><circle cx="218" cy="3537"/></g>
<g id="n45-175"><circle cx="218" cy="3557.3"/></g>
<g id="n45-176"><circle cx="218" cy="3577.5"/></g>
<g id="n45-177"><circle cx="218" cy="3597.8"/></g>
<g id="n45-178"><circle cx="218" cy="3618.1"/></g>
<g id="n45-179"><circle cx="218" cy="3638.3"/></g>
<g id="n45-180"><circle cx="218" cy="3658.6"/></g>
<g id="n45-181"><circle cx="218" cy="3678.9"/></g>
<g id="n45-182"><circle cx="218" cy="3699.1"/></g>
<g id="n45-183"><circle cx="218" cy="3719.4"/></g>
<g id="n45-184"><circle cx="218" cy="3739.7"/></g>
<g id="n45-185"><circle cx="218" cy="3760"/></g>
<g id="n45-186"><circle cx="218" cy="3780.2"/></g>
<g id="n45-187"><circle cx="218" cy="3800.5"/></g>
<g id="n45-188"><circle cx="218" cy="3820.8"/></g>
<g id="n45-189"><circle cx="218" cy="3841"/></g>
<g id="n45-190"><circle cx="218" cy="3861.3"/></g>
<g id="n45-191"><circle cx="218" cy="3881.6"/></g>
<g id="n45-192"><circle cx="218" cy="3901.8"/></g>
<g id="n45-193"><circle cx="218" cy="3922.1"/></g>
<g id="n45-194"><circle cx="218" cy="3942.4"/></g>
<g id="n45-195"><circle cx="218" cy="3962.7"/></g>
<g id="n45-196"><circle cx="218" cy="3982.9"/></g>
<g id="n46-173"><circle cx="251.3" cy="3516.7"/></g>
<g id="n46-174"><circle cx="251.3" cy="3537"/></g>
<g id="n46-175"><circle cx="251.3" cy="3557.3"/></g>
<g id="n46-176"><circle cx="251.3" cy="3577.5"/></g>
<g id="n46-177"><circle cx="251.3" cy="3597.8"/></g>
<g id="n46-178"><circle cx="251.3" cy="3618.1"/></g>
<g id="n46-179"><circle cx="251.3" cy="3638.3"/></g>
<g id="n46-180"><circle cx="251.3" cy="3658.6"/></g>
<g id="n47-197"><circle cx="202" cy="4003.2"/></g>
<g id="n47-198"><circle cx="202" cy="4023.5"/></g>
<g id="n47-199"><circle cx="202" cy="4043.7"/></g>
<g id="n47-200"><circle cx="202" cy="4064"/></g>
<g id="n48-197"><circle cx="235.3" cy="4003.2"/></g>
<g id="n48-198"><circle cx="235.3" cy="4023.5"/></g>
<g id="n48-199"><circle cx="235.3" cy="4043.7"/></g>
<g id="n48-200"><circle cx="235.3" cy="4064"/></g>
<g id="n48-201"><circle cx="235.3" cy="4084.3"/></g>
<g id="n48-202"><circle cx="235.3" cy="4104.5"/></g>
<g id="n48-203"><circle cx="235.3" cy="4124.8"/></g>
<g id="n48-204"><circle cx="235.3" cy="4145.1"/></g>
<g id="n48-205"><circle cx="235.3" cy="4165.4"/></g>
<g id="n48-206"><circle cx="235.3" cy="4185.6"/></g>
<g id="n48-207"><circle cx="235.3" cy="4205.9"/></g>
<g id="n48-208"><circle cx="235.3" cy="4226.2"/></g>
<g id="n48-209"><circle cx="235.3" cy="4246.4"/></g>
<g id="n48-210"><circle cx="235.3" cy="4266.7"/></g>
<g id="n48-211"><circle cx="235.3" cy="4287"/></g>
<g id="n48-212"><circle cx="235.3" cy="4307.2"/></g>
<g id="n48-213"><circle cx="235.3" cy="4327.5"/></g>
<g id="n48-214"><circle cx="235.3" cy="4347.8"/></g>
<g id="n48-215"><circle cx="235.3" cy="4368.1"/></g>
<g id="n48-216"><circle cx="235.3" cy="4388.3"/></g>
<g id="n48-217"><circle cx="235.3" cy="4408.6"/></g>
<g id="n48-218"><circle cx="235.3" cy="4428.9"/></g>
<g id="n48-219"><circle cx="235.3" cy="4449.1"/></g>
<g id="n48-220"><circle cx="235.3" cy="4469.4"/></g>
<g id="n48-221"><circle cx="235.3" cy="4489.7"/></g>
<g id="n48-222"><circle cx="235.3" cy="4509.9"/></g>
<g id="n49-199"><circle cx="268.7" cy="4043.7"/></g>
<g id="n49-200"><circle cx="268.7" cy="4064"/></g>
<g id="n49-201"><circle cx="268.7" cy="4084.3"/></g>
<g id="n49-202"><circle cx="268.7" cy="4104.5"/></g>
<g id="n49-203"><circle cx="268.7" cy="4124.8"/></g>
<g id="n49-204"><circle cx="268.7" cy="4145.1"/></g>
<g id="n49-205"><circle cx="268.7" cy="4165.4"/></g>
<g id="n49-206"><circle cx="268.7" cy="4185.6"/></g>
<g id="n49-207"><circle cx="268.7" cy="4205.9"/></g>
<g id="n49-208"><circle cx="268.7" cy="4226.2"/></g>
<g id="n49-209"><circle cx="268.7" cy="4246.4"/></g>
<g id="n49-210"><circle cx="268.7" cy="4266.7"/></g>
<g id="n49-211"><circle cx="268.7" cy="4287"/></g>
<g id="n49-212"><circle cx="268.7" cy="4307.2"/></g>
<g id="n49-213"><circle cx="268.7" cy="4327.5"/></g>
<g id="n49-214"><circle cx="268.7" cy="4347.8"/></g>
<g id="n49-215"><circle cx="268.7" cy="4368.1"/></g>
<g id="n49-216"><circle cx="268.7" cy="4388.3"/></g>
<g id="n49-217"><circle cx="268.7" cy="4408.6"/></g>
<g id="n49-218"><circle cx="268.7" cy="4428.9"/></g>
<g id="n49-219"><circle cx="268.7" cy="4449.1"/></g>
<g id="n49-220"><circle cx="268.7" cy="4469.4"/></g>
<g id="n50-207"><circle cx="202" cy="4205.9"/></g>
<g id="n50-208"><circle cx="202" cy="4226.2"/></g>
<g id="n50-209"><circle cx="202" cy="4246.4"/></g>
<g id="n50-210"><circle cx="202" cy="4266.7"/></g>
<g id="n51-223"><circle cx="219.3" cy="4530.2"/></g>
<g id="n51-224"><circle cx="219.3" cy="4550.5"/></g>
<g id="n51-225"><circle cx="219.3" cy="4570.8"/></g>
<g id="n51-226"><circle cx="219.3" cy="4591"/></g>
<g id="n52-223"><circle cx="252.7" cy="4530.2"/></g>
<g id="n52-224"><circle cx="252.7" cy="4550.5"/></g>
<g id="n52-225"><circle cx="252.7" cy="4570.8"/></g>
<g id="n52-226"><circle cx="252.7" cy="4591"/></g>
<g id="n53-227"><circle cx="235.3" cy="4611.3"/></g>
<g id="n53-228"><circle cx="235.3" cy="4631.6"/></g>
<g id="n54-227"><circle cx="268.7" cy="4611.3"/></g>
<g id="n54-228"><circle cx="268.7" cy="4631.6"/></g>
<g id="n54-229"><circle cx="268.7" cy="4651.8"/></g>
<g id="n54-230"><circle cx="268.7" cy="4672.1"/></g>
<g id="n54-231"><circle cx="268.7" cy="4692.4"/></g>
<g id="n54-232"><circle cx="268.7" cy="4712.6"/></g>
<g id="n54-233"><circle cx="268.7" cy="4732.9"/></g>
<g id="n54-234"><circle cx="268.7" cy="4753.2"/></g>
<g id="n55-119"><circle cx="110" cy="2422.1"/></g>
<g id="n55-120"><circle cx="110" cy="2442.4"/></g>
<g id="n55-121"><circle cx="110" cy="2462.7"/></g>
<g id="n55-122"><circle cx="110" cy="2482.9"/></g>
<g id="n55-123"><circle cx="110" cy="2503.2"/></g>
<g id="n55-124"><circle cx="110" cy="2523.5"/></g>
<g id="n55-125"><circle cx="110" cy="2543.8"/></g>
<g id="n55-126"><circle cx="110" cy="2564"/></g>
<g id="n55-127"><circle cx="110" cy="2584.3"/></g>
<g id="n55-128"><circle cx="110" cy="2604.6"/></g>
<g id="n55-129"><circle cx="110" cy="2624.8"/></g>
<g id="n55-130"><circle cx="110" cy="2645.1"/></g>
<g id="n55-131"><circle cx="110" cy="2665.4"/></g>
<g id="n55-132"><circle cx="110" cy="2685.6"/></g>
<g id="n55-133"><circle cx="110" cy="2705.9"/></g>
<g id="n55-134"><circle cx="110" cy="2726.2"/></g>
<g id="n55-135"><circle cx="110" cy="2746.5"/></g>
<g id="n55-136"><circle cx="110" cy="2766.7"/></g>
<g id="n56-119"><circle cx="143.3" cy="2422.1"/></g>
<g id="n56-120"><circle cx="143.3" cy="2442.4"/></g>
<g id="n56-121"><circle cx="143.3" cy="2462.7"/></g>
<g id="n56-122"><circle cx="143.3" cy="2482.9"/></g>
<g id="n57-137"><circle cx="94" cy="2787"/></g>
<g id="n57-138"><circle cx="94" cy="2807.3"/></g>
<g id="n57-139"><circle cx="94" cy="2827.5"/></g>
<g id="n57-140"><circle cx="59.3" cy="2847.8"/></g>
<g id="n58-137"><circle cx="128.7" cy="2787"/></g>
<g id="n58-138"><circle cx="130" cy="2807.3"/></g>
<g id="n58-139"><circle cx="131.7" cy="2827.5"/></g>
<g id="n58-140"><circle cx="132.7" cy="2847.8"/></g>
<g id="n58-141"><circle cx="135" cy="2868.1"/></g>
<g id="n58-142"><circle cx="143.3" cy="2888.3"/></g>
<g id="n60-141"><circle cx="10" cy="2868.1"/></g>
<g id="n60-142"><circle cx="10" cy="2888.3"/></g>
<g id="n60-143"><circle cx="10" cy="2908.6"/></g>
<g id="n60-144"><circle cx="10" cy="2928.9"/></g>
<g id="n61-141"><circle cx="43.3" cy="2868.1"/></g>
<g id="n61-142"><circle cx="43.3" cy="2888.3"/></g>
<g id="n61-143"><circle cx="43.3" cy="2908.6"/></g>
<g id="n61-144"><circle cx="43.3" cy="2928.9"/></g>
<g id="n62-141"><circle cx="76.7" cy="2868.1"/></g>
<g id="n62-142"><circle cx="76.7" cy="2888.3"/></g>
<g id="n62-143"><circle cx="76.7" cy="2908.6"/></g>
<g id="n62-144"><circle cx="76.7" cy="2928.9"/></g>
<g id="n62-145"><circle cx="76.7" cy="2949.2"/></g>
<g id="n62-146"><circle cx="76.7" cy="2969.4"/></g>
<g id="n63-143"><circle cx="110" cy="2908.6"/></g>
<g id="n63-144"><circle cx="110" cy="2928.9"/></g>
<g id="n63-145"><circle cx="110" cy="2949.2"/></g>
<g id="n63-146"><circle cx="110" cy="2969.4"/></g>
<g id="n64-143"><circle cx="143.3" cy="2908.6"/></g>
<g id="n64-144"><circle cx="143.3" cy="2928.9"/></g>
<g id="n65-143"><circle cx="176.7" cy="2908.6"/></g>
<g id="n65-144"><circle cx="176.7" cy="2928.9"/></g>
<g id="n65-145"><circle cx="176.7" cy="2949.2"/></g>
<g id="n65-146"><circle cx="176.7" cy="2969.4"/></g>
<g id="n65-147"><circle cx="176.7" cy="2989.7"/></g>
<g id="n65-148"><circle cx="176.7" cy="3010"/></g>
</g>
</svg>
